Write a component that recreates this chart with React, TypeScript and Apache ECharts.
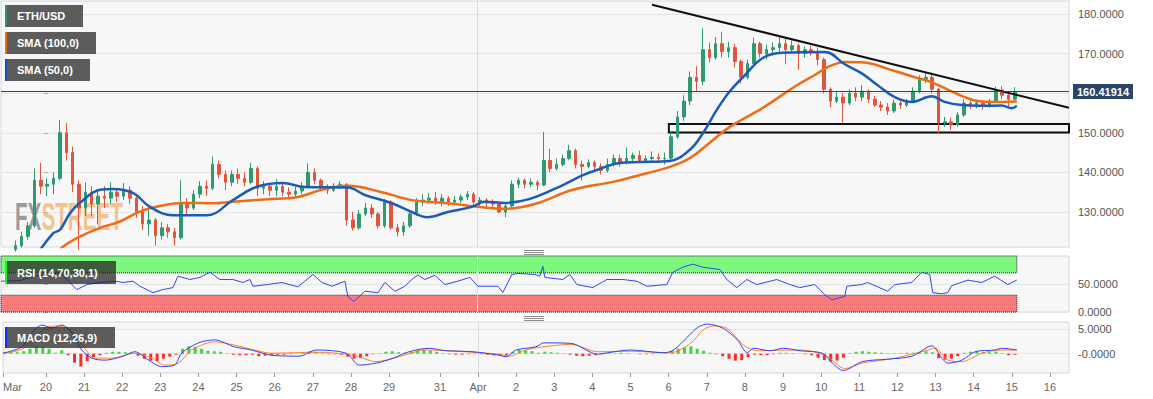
import React, { useEffect, useRef } from "react";
import * as echarts from "echarts";

// ---- axis extents (hour index since Mar 20 00:00, Mar 30 is a short session) ----
const X_MIN = -27;
const X_MAX = 644;
const DAY_TICKS = [-27, 0, 24, 48, 72, 96, 120, 144, 168, 192, 216, 248, 272, 296, 320, 344, 368, 392, 416, 440, 464, 488, 512, 536, 560, 584, 608, 632];
const DAY_LABELS = ["Mar", "20", "21", "22", "23", "24", "25", "26", "27", "28", "29", "31", "Apr", "2", "3", "4", "5", "6", "7", "8", "9", "10", "11", "12", "13", "14", "15", "16"];
const MONTH_BREAK = 272;

const PRICE_MIN = 121.16;
const PRICE_MAX = 183.28;
const PRICE_TICKS = [130, 140, 150, 160, 170, 180];
const PRICE_LABELS = [130, 140, 150, 170, 180]; // 160 is hidden under the last-price tag
const RSI_TICKS = [0, 50];
const MACD_MIN = -3.9;
const MACD_MAX = 6.42;
const MACD_TICKS = [0, 5];

// ---- 4-hour candles: [open, close, low, high], first bin centred at hour -26 ----
const CANDLE_START = -26;
const CANDLE_STEP = 4;
const CANDLES = [
  [118.5, 119.5, 118, 120.2], [119.5, 120.5, 119, 121.0], [120.5, 121.5, 120, 122.8], [121.5, 123.8, 121, 125.0],
  [123.8, 126.5, 123, 127.5], [126.5, 138, 126, 141], [138, 136.5, 134.5, 142.4], [136.5, 137, 134, 138.5],
  [137, 138.5, 134.5, 140], [138.5, 150, 138, 153.2], [150, 145, 143, 152.5], [145, 137, 135, 146.5],
  [137, 131, 120.5, 138], [131, 135, 129, 137.5], [135, 132, 129, 136.5], [132, 134, 127, 135.5],
  [134, 133.5, 131, 136.5], [133.5, 135, 132, 137.5], [135, 134, 132.5, 136], [134, 135.5, 133, 137.3],
  [135.5, 133.5, 132, 136.5], [133.5, 130, 128.5, 134], [130, 127, 125.5, 131.5], [127, 128, 124, 131],
  [128, 124, 121.5, 128.5], [124, 126, 123, 127.5], [126, 125, 123.5, 127], [125, 123.5, 121.5, 126],
  [123.5, 132, 123, 138], [132, 131, 129, 133.5], [131, 134.5, 130.5, 135.5], [134.5, 136.5, 133.5, 137.8],
  [136.5, 136, 134, 138], [136, 142, 135.5, 144], [142, 139.5, 138.5, 143], [139.5, 137.5, 135.5, 140.5],
  [137.5, 139.5, 136.5, 140.5], [139.5, 138.5, 137, 141], [138.5, 137.5, 136.5, 140], [137.5, 141, 137, 142.4],
  [141, 136, 134, 141.5], [136, 136.5, 134.5, 137.8], [136.5, 135.5, 134, 137.5], [135.5, 136.5, 134, 138.3],
  [136.5, 135, 134, 137.5], [135, 134.5, 133.5, 136.2], [134.5, 135.3, 134, 136.3], [135.3, 136.5, 134.5, 137.5],
  [136.5, 140, 136, 142.3], [140, 138, 137, 141], [138, 136.5, 135.5, 138.5], [136.5, 135.5, 134.5, 137],
  [135.5, 136.5, 135, 137.3], [136.5, 137, 135.8, 137.8], [137, 128, 126.5, 137.3], [128, 126, 125.3, 130],
  [126, 129.5, 125.5, 130.5], [129.5, 131, 129, 132.3], [131, 129.5, 128.5, 132], [129.5, 126.5, 125.8, 130],
  [126.5, 132.5, 126, 133.3], [132.5, 126, 125.5, 133], [126, 125, 123.8, 127], [125, 126.5, 124, 127.5],
  [126.5, 129.5, 126, 130.5], [129.5, 132.5, 129, 133.5], [132.5, 133, 131.5, 134.5], [133, 133.5, 132, 134.8],
  [133.5, 132.5, 131.8, 135], [132.5, 133.5, 131.5, 134.5], [133.5, 132.5, 131.5, 134], [132.5, 133, 132, 134],
  [133, 133.8, 132.3, 134.5], [133.8, 134.5, 133, 135.3], [134.5, 132.5, 131.5, 135], [132.5, 133, 131.5, 133.8],
  [133, 132.3, 131, 133.5], [132.3, 132, 131, 133.2], [132, 130, 129.7, 132.5], [130, 131.5, 128.7, 132],
  [131.5, 137, 131, 138], [137, 138, 136, 138.7], [138, 137, 136, 138.5], [137, 137.5, 136.3, 138.5],
  [137.5, 136.8, 135.5, 138], [136.8, 143, 136.5, 150.2], [143, 141, 140, 146], [141, 142, 140.5, 143.5],
  [142, 143.5, 141.5, 144.5], [143.5, 145.5, 143, 147], [145.5, 142, 141, 146], [142, 141.5, 138, 143],
  [141.5, 142.5, 141, 143.3], [142.5, 141.5, 140.5, 143], [141.5, 140.5, 139.5, 142.3], [140.5, 142, 140, 143.5],
  [142, 143.5, 141.5, 144.5], [143.5, 142.5, 141.5, 144.5], [142.5, 143.5, 142, 146.3], [143.5, 144.3, 142.5, 145],
  [144.3, 143, 142.5, 145.5], [143, 143.5, 142.3, 144.3], [143.5, 143.8, 142.5, 145.3], [143.8, 143.5, 142.3, 144.8],
  [143.5, 143.6, 142, 145], [143.6, 149, 143, 150.5], [149, 154, 148.5, 155.5], [154, 158, 153, 159.5],
  [158, 164, 157, 165.5], [164, 163, 160.5, 166.8], [163, 171, 162, 176.4], [171, 169, 167.8, 172.8],
  [169, 172.5, 168.5, 174.2], [172.5, 170.5, 169, 175.5], [170.5, 171.5, 169, 173], [171.5, 168, 166.5, 172.5],
  [168, 164, 162.5, 168.5], [164, 167.5, 163.5, 168.5], [167.5, 172.5, 167, 174], [172.5, 170, 169, 173],
  [170, 171, 168.5, 172.3], [171, 171.5, 169.5, 172.8], [171.5, 172.5, 170.3, 174.4], [172.5, 171, 167.3, 173.8],
  [171, 172, 170, 173.3], [172, 170, 165.9, 172.5], [170, 171, 169, 171.8], [171, 170.5, 169.5, 172],
  [170.5, 168.5, 167, 171.5], [168.5, 161, 160, 169], [161, 158, 156.5, 161.5], [158, 159, 157.5, 160.5],
  [159, 157.5, 152.5, 160], [157.5, 160, 157, 161], [160, 159, 158, 161.5], [159, 160.5, 158, 162],
  [160.5, 158.5, 157.5, 161], [158.5, 157, 156.5, 159.3], [157, 156.5, 155.5, 158], [156.5, 155.5, 154.5, 157.5],
  [155.5, 157.5, 155, 158.3], [157.5, 157, 156, 158.5], [157, 157.8, 156.5, 158.5], [157.8, 160.5, 157.5, 161.5],
  [160.5, 163.5, 160, 164.5], [163.5, 164, 162.5, 165.4], [164, 161, 160, 165.2], [161, 152.5, 150, 161.3],
  [152.5, 152.8, 151.5, 154], [152.8, 152, 150.7, 153.8], [152, 154.5, 151.5, 155.2], [154.5, 157.5, 154, 158.5],
  [157.5, 157, 156, 158.5], [157, 157.5, 156.2, 158.3], [157.5, 156.8, 155.8, 158.3], [156.8, 157.8, 156.3, 158.5],
  [157.8, 160.8, 157.5, 161.6], [160.8, 159.5, 158.5, 161.8], [159.5, 158.5, 156.5, 160.5], [158.5, 160.42, 158, 161.5],
];

// ---- moving averages [hour, price] ----
const SMA50 = [
  [-5.7, 118.5], [5.7, 124.6], [10.1, 125.5], [16.3, 129.7], [22.6, 132.3], [35.2, 135.6], [43.3, 135.8], [55.9, 134.8],
  [66.6, 131.3], [81.0, 129.2], [102.4, 129.2], [118.7, 133], [131.3, 136], [142, 137.1], [150.1, 137.3], [163.9, 136.3],
  [190.9, 136.2], [201.6, 134.3], [218.6, 132.2], [231.1, 130], [240.6, 128.7], [253.8, 130], [268.8, 131.3], [277, 132.6],
  [289.6, 132.3], [305.3, 133.3], [326, 136.8], [338.6, 139.3], [347.4, 140.6], [361.8, 142.4], [374.4, 142.6], [393.2, 142.9],
  [405.8, 145.7], [414, 149.9], [422.7, 155.8], [430.9, 160.5], [439.1, 164], [451.6, 168.9], [464.2, 170.2], [490.6, 170.4],
  [503.1, 167.3], [513.8, 165], [523.8, 162], [534.5, 159], [545.2, 157.8], [557.8, 159.2], [565.9, 157.8], [576.6, 157],
  [589.2, 156.8], [601.7, 156.9], [608, 156.2], [611.2, 156.8],
];
const SMA100 = [
  [8.8, 119.5], [11.9, 121.2], [22.6, 123.8], [35.2, 126], [47.7, 127.6], [60.3, 130.1], [72.9, 131.5], [87.3, 132.3],
  [106.1, 132.2], [118.7, 132.6], [140.1, 133.2], [159.5, 133.8], [174.6, 135.6], [190.9, 136.6], [212.3, 135], [231.1, 133],
  [251.9, 132.3], [272.6, 131.3], [289.6, 130.8], [308.4, 132], [332.3, 135.6], [357.4, 137.6], [378.8, 139.8], [393.2, 141.4],
  [405.8, 143.6], [418.3, 147.5], [430.9, 151.5], [451.6, 156.3], [473, 162], [484.3, 164.6], [492.4, 166.6], [503.1, 167.9],
  [513.8, 167.8], [534.5, 165.6], [549, 163.8], [555.3, 163.1], [565.9, 161.3], [578.5, 159], [589.2, 157.9], [601.7, 157.8],
  [611.2, 157.9],
];

// ---- drawn studies ----
const TRENDLINE = [[382, 182.35], [644, 156.3]];
const SUPPORT_ZONE = { x0: 392.6, top: 152.2, x1: 644, bottom: 150.1 };
const LAST_PRICE = 160.41914;

// ---- RSI [hour, value] ----
const RSI_LEVELS = [30, 70];
const RSI_END = 611.2;
const RSI = [
  [-27, 55], [-15.1, 56], [-8.8, 62], [-2.5, 66], [1.9, 64], [10.1, 71], [14.4, 58], [20.7, 40], [27, 49], [35.2, 52.7],
  [45.2, 55], [49.6, 52.7], [55.9, 55], [60.3, 46], [68.5, 34.5], [74.7, 40], [81, 43.6], [84.2, 64], [91.7, 58], [98, 61.8],
  [104.3, 71], [110.5, 58], [118.7, 58], [125, 52.7], [129.4, 58], [131.3, 46], [140.1, 49], [149.5, 52.7], [159.5, 45],
  [163.9, 55], [169, 67], [174.6, 52.7], [180.9, 46], [189.1, 55], [190.9, 27.8], [194.7, 18.8], [201.6, 37], [209.8, 34.5],
  [214.2, 52.7], [220.5, 37], [226.7, 46], [231.1, 58], [234.9, 66], [239.3, 58], [245.6, 65.5], [251.9, 49], [260, 55],
  [267.6, 61.8], [272.6, 46], [285.2, 46], [288.3, 35], [294, 67], [297.7, 69], [308.4, 67], [311.5, 64], [313.4, 82],
  [314.7, 61.8], [326, 58], [330.4, 67], [334.8, 49], [344.8, 43.6], [353.6, 58], [363.7, 58], [372.5, 55], [378.8, 46],
  [391.3, 49], [395.1, 71], [401.4, 80], [407.6, 85.5], [413.9, 80], [424.6, 76], [429, 58], [435.3, 43.6], [441.6, 58],
  [447.8, 49], [460.4, 58], [468.6, 49], [474.8, 43.6], [484.3, 49], [490.5, 31], [495, 21.8], [503.1, 27.8], [504.4, 46],
  [513.8, 49], [517.5, 52.7], [530.1, 37], [534.5, 49], [545.2, 52.7], [551.5, 71], [556.5, 67], [558.4, 34.5], [564, 32.7],
  [567.8, 34.5], [570.3, 47], [580.4, 57], [589.2, 52.7], [597.3, 64], [605.5, 49], [611.2, 57],
];

// ---- MACD [hour, value] and 4-hour histogram ----
const MACD_LINE = [
  [-27, 0.1], [-15.1, 1.4], [-8.8, 4.2], [-2.5, 5.8], [3.8, 5.2], [10.1, 5.8], [16.3, 4.2], [22.6, 0.75], [28.9, -0.9],
  [37.1, -1.3], [47.7, -0.6], [55.9, 0.4], [64.7, -1.3], [72.9, -2.6], [81, -2.3], [85.4, 0.1], [96.1, 2.2], [106.1, 2.8],
  [118.7, 1.4], [129.4, 0.75], [142, -0.3], [159.5, -0.5], [170.2, 0.75], [189.1, 0.1], [197.2, -2.3], [207.9, -1.9],
  [218.6, -0.9], [228.6, 0.4], [241.2, 1.1], [251.9, 0.6], [268.8, 0.4], [285.2, -0.3], [289.6, -0.6], [295.9, 0.75],
  [308.4, 1.4], [313.4, 2.2], [330.4, 2.1], [347.4, -0.1], [353.6, 0.2], [368.1, 0.75], [388.8, 0.2], [395.1, 0.75],
  [403.9, 3.4], [410.2, 5.3], [416.5, 6.0], [426.5, 5.1], [435.3, 2.8], [441.6, 0.2], [445.4, 1.1], [456, 0.6], [464.2, 1.1],
  [474.8, 0.6], [488.7, 0.1], [495, -1.9], [501.9, -3.4], [513.8, -1.6], [530.1, -1.1], [545.2, -0.5], [555.3, 1.4],
  [557.8, 1.6], [564, -0.9], [567.8, -1.9], [576.6, -1.3], [584.8, 0.4], [597.3, 0.75], [601.7, 1.1], [611.2, 0.75],
];
const MACD_SIGNAL = [
  [-27, 0.1], [-15.1, 0.9], [-6.9, 3.2], [-0.6, 5.2], [6.9, 5.6], [13.2, 5.2], [18.2, 3.8], [24.5, 1.1], [30.8, -0.9],
  [41.5, -0.9], [55.9, 0.1], [66.6, -0.9], [74.7, -2.3], [83.5, -1.9], [91.7, 0.75], [106.1, 2.4], [118.7, 1.75],
  [131.3, 0.75], [142, 0.1], [170.2, 0.3], [193.5, -0.3], [207.9, -1.6], [222.4, -0.6], [239.3, 0.75], [255, 0.6],
  [272.6, 0.2], [285.2, -0.1], [291.4, -0.5], [302.1, 0.75], [308.4, 1.2], [330.4, 1.9], [347.4, 0.4], [368.1, 0.5],
  [393.2, 0.2], [405.8, 2.1], [414, 4.9], [420.2, 5.6], [429, 5.1], [439.1, 1.75], [447.8, 0.6], [460.4, 0.7], [474.8, 0.75],
  [490.5, -0.3], [503.1, -3.0], [513.8, -1.9], [534.5, -0.9], [555.3, 0.75], [559.6, 1.1], [567.8, -1.3], [576.6, -1.6],
  [589.2, 0.1], [601.7, 0.75], [611.2, 0.75],
];
const MACD_HIST = [
  0.3, 0.3, 0.3, 0.5, 1.0, 1.4, 1.3, 1.0, 0.2, 0.7, -0.3, -1.8, -2.6, -1.5, -0.7, -0.3, 0.2, 0.4, 0.4, 0.3,
  0.2, -0.4, -1.0, -1.4, -1.5, -1.0, -0.6, -0.2, 1.0, 1.5, 1.4, 1.0, 0.6, 0.5, 0.4, 0.1, -0.2, -0.3, -0.3, -0.2,
  -0.5, -0.4, -0.3, -0.2, -0.2, -0.1, 0.0, 0.3, 0.5, 0.4, 0.1, -0.1, -0.1, -0.2, -0.6, -1.0, -0.9, -0.5, -0.1, 0.1,
  0.4, 0.5, 0.3, 0.2, 0.4, 0.7, 0.8, 0.6, 0.4, 0.1, -0.1, -0.2, -0.2, -0.1, -0.1, -0.1, -0.2, -0.3, -0.4, -0.3,
  0.4, 0.8, 0.7, 0.5, 0.2, 0.4, 0.3, 0.2, 0.1, -0.2, -0.4, -0.5, -0.4, -0.3, -0.1, 0.1, 0.1, 0.2, 0.1, 0.0,
  -0.1, -0.1, -0.1, 0.0, 0.1, 0.6, 1.0, 1.3, 1.5, 1.0, 0.6, 0.2, -0.1, -0.5, -1.0, -1.4, -1.3, -0.7, -0.2, -0.3,
  -0.3, -0.1, 0.2, 0.2, 0.1, 0.0, -0.1, -0.3, -0.8, -1.3, -1.6, -1.4, -0.8, 0.1, 0.4, 0.5, 0.4, 0.3, 0.2, 0.1,
  0.1, 0.1, 0.2, 0.2, 0.3, 0.5, 0.3, -0.9, -1.2, -1.0, -0.5, 0.2, 0.4, 0.4, 0.3, 0.3, 0.4, 0.1, -0.3, -0.2,
];

const FONT = "Arial, 'Liberation Sans', sans-serif";

function legendBox(x: number, y: number, w: number, h: number, strip: string, text: string) {
  return {
    type: "group",
    z: 100,
    children: [
      { type: "rect", z: 100, shape: { x, y, width: w, height: h }, style: { fill: "rgba(38,38,38,0.74)" } },
      { type: "rect", z: 101, shape: { x, y, width: 2, height: h }, style: { fill: strip } },
      {
        type: "text", z: 102, x: x + 12, y: y + h / 2,
        style: { text, fill: "#ffffff", fontSize: 11, fontWeight: "bold", fontFamily: FONT, verticalAlign: "middle" },
      },
    ],
  };
}

function handle(cx: number, cy: number) {
  return [-2, 0, 2].map((d) => ({
    type: "line", z: 50,
    shape: { x1: cx - 10, y1: cy + d + 0.5, x2: cx + 10, y2: cy + d + 0.5 },
    style: { stroke: "#8a8a8a", lineWidth: 1 },
  }));
}

export default function App() {
  const ref = useRef<HTMLDivElement>(null);
  useEffect(() => {
    if (!ref.current) return;
    const chart = echarts.init(ref.current, undefined, { renderer: "svg" });
    const candleData = CANDLES.map((c, i) => [CANDLE_START + i * CANDLE_STEP, c[0], c[1], c[2], c[3]]);
    const histData = MACD_HIST.map((v, i) => [CANDLE_START + i * CANDLE_STEP, v]);
    const gridCommon = { left: 1, width: 1068, show: true, backgroundColor: "#f7f7f7", borderColor: "#d2d8e6", borderWidth: 1 };
    const xCommon = { type: "value", min: X_MIN, max: X_MAX };
    const sep = (z: number) => ({
      silent: true, symbol: ["none", "none"], z,
      label: { show: false },
      lineStyle: { color: "#dcdcdc", width: 1, type: "solid" },
      data: [{ xAxis: MONTH_BREAK }],
    });
    const yLabel = { color: "#555", fontSize: 11, fontFamily: FONT, margin: 9 };
    const yTick = { show: true, length: 4, lineStyle: { color: "#aaa" } };

    chart.setOption({
      animation: false,
      backgroundColor: "#ffffff",
      textStyle: { fontFamily: FONT },
      grid: [
        { ...gridCommon, top: 1, height: 246 },
        { ...gridCommon, top: 256, height: 56 },
        { ...gridCommon, top: 322, height: 51 },
      ],
      xAxis: [
        { ...xCommon, gridIndex: 0, show: false, axisLine: { onZero: false } },
        { ...xCommon, gridIndex: 1, show: false, axisLine: { onZero: false } },
        {
          ...xCommon, gridIndex: 2, position: "bottom",
          axisLine: { show: false, onZero: false },
          splitLine: { show: false },
          axisTick: { show: true, length: 4, customValues: DAY_TICKS, lineStyle: { color: "#999" } },
          axisLabel: {
            customValues: DAY_TICKS, color: "#666", fontSize: 11, fontFamily: FONT, margin: 8,
            alignMinLabel: "left",
            formatter: (v: number) => {
              const i = DAY_TICKS.findIndex((t) => Math.abs(t - v) < 0.01);
              return i >= 0 ? DAY_LABELS[i] : "";
            },
          },
        },
      ],
      yAxis: [
        {
          type: "value", gridIndex: 0, position: "right", min: PRICE_MIN, max: PRICE_MAX,
          axisLine: { show: false }, axisTick: { ...yTick, customValues: PRICE_TICKS },
          axisLabel: { ...yLabel, customValues: PRICE_LABELS, formatter: (v: number) => v.toFixed(4) },
          splitLine: { show: true, lineStyle: { color: "#e4e4e4" } },
        },
        {
          type: "value", gridIndex: 1, position: "right", min: 0, max: 100,
          axisLine: { show: false }, axisTick: { ...yTick, customValues: RSI_TICKS },
          axisLabel: { ...yLabel, customValues: RSI_TICKS, formatter: (v: number) => v.toFixed(4) },
          splitLine: { show: true, lineStyle: { color: "#e4e4e4" } },
        },
        {
          type: "value", gridIndex: 2, position: "right", min: MACD_MIN, max: MACD_MAX,
          axisLine: { show: false }, axisTick: { ...yTick, customValues: MACD_TICKS },
          axisLabel: { ...yLabel, customValues: MACD_TICKS, formatter: (v: number) => (v === 0 ? "-0.0000" : v.toFixed(4)) },
          splitLine: { show: true, lineStyle: { color: "#e4e4e4" } },
        },
      ],
      series: [
        {
          type: "candlestick", xAxisIndex: 0, yAxisIndex: 0, data: candleData, barWidth: 3,
          itemStyle: { color: "#2f9a70", color0: "#e0553d", borderColor: "#2f9a70", borderColor0: "#e0553d", borderWidth: 1 },
          markLine: {
            silent: true, symbol: ["none", "none"],
            data: [{
              yAxis: LAST_PRICE,
              lineStyle: { color: "#2b4568", width: 1, type: "solid" },
              label: {
                show: true, position: "end", formatter: String(LAST_PRICE), distance: 4,
                color: "#fff", backgroundColor: "#2b4568", padding: [2, 4, 2, 4],
                fontWeight: "bold", fontSize: 11, fontFamily: FONT,
              },
            }],
          },
        },
        {
          type: "line", xAxisIndex: 0, yAxisIndex: 0, data: SMA100, smooth: 0.4, showSymbol: false,
          lineStyle: { color: "#f06c14", width: 2.5 }, z: 3, markLine: sep(1),
        },
        {
          type: "line", xAxisIndex: 0, yAxisIndex: 0, data: SMA50, smooth: 0.4, showSymbol: false,
          lineStyle: { color: "#1a5cb8", width: 2.5 }, z: 3,
        },
        {
          type: "line", xAxisIndex: 0, yAxisIndex: 0, data: TRENDLINE, showSymbol: false,
          lineStyle: { color: "#111", width: 2 }, z: 4,
          markArea: {
            silent: true,
            itemStyle: { color: "rgba(0,0,0,0)", borderColor: "#111", borderWidth: 2 },
            data: [[{ coord: [SUPPORT_ZONE.x0, SUPPORT_ZONE.top] }, { coord: [SUPPORT_ZONE.x1, SUPPORT_ZONE.bottom] }]],
          },
        },
        {
          type: "line", xAxisIndex: 1, yAxisIndex: 1, data: RSI, showSymbol: false,
          lineStyle: { color: "#2a48f5", width: 1 }, z: 3,
          markLine: sep(1),
          markArea: {
            silent: true,
            data: [
              [{ coord: [X_MIN, RSI_LEVELS[1]], itemStyle: { color: "#7ef77e", borderColor: "#222", borderWidth: 1, borderType: "dotted" } }, { coord: [RSI_END, 100] }],
              [{ coord: [X_MIN, 0], itemStyle: { color: "#f87a7a", borderColor: "#222", borderWidth: 1, borderType: "dotted" } }, { coord: [RSI_END, RSI_LEVELS[0]] }],
            ],
          },
        },
        {
          type: "bar", xAxisIndex: 2, yAxisIndex: 2, data: histData, barWidth: 3,
          itemStyle: { color: (p: any) => (p.value[1] >= 0 ? "#3fd43f" : "#ff2b2b") },
          markLine: sep(1),
        },
        {
          type: "line", xAxisIndex: 2, yAxisIndex: 2, data: MACD_SIGNAL, showSymbol: false, smooth: 0.3,
          lineStyle: { color: "#ff8026", width: 1 }, z: 3,
        },
        {
          type: "line", xAxisIndex: 2, yAxisIndex: 2, data: MACD_LINE, showSymbol: false, smooth: 0.3,
          lineStyle: { color: "#2a48f5", width: 1 }, z: 4,
        },
      ],
      graphic: [
        {
          type: "text", z: 1, x: 15, y: 197, scaleX: 0.53,
          style: {
            text: "{a|FX}{b|STREET}",
            rich: {
              a: { fontSize: 39, fontWeight: "bold", fontFamily: FONT, fill: "rgba(125,125,125,0.75)" },
              b: { fontSize: 39, fontWeight: "bold", fontFamily: FONT, fill: "rgba(242,170,95,0.7)" },
            },
          },
        },
        legendBox(5, 5, 78, 22, "#2f8f72", "ETH/USD"),
        legendBox(5, 32, 91, 22, "#f06a10", "SMA (100,0)"),
        legendBox(5, 59, 85, 22, "#1550b0", "SMA (50,0)"),
        legendBox(5, 261, 111, 23, "#12ff12", "RSI (14,70,30,1)"),
        legendBox(5, 327, 110, 21, "#1030ff", "MACD (12,26,9)"),
        ...handle(534, 252),
        ...handle(534, 318),
      ],
    });
    return () => chart.dispose();
  }, []);
  return <div ref={ref} style={{ position: "absolute", left: 0, top: 0, width: 1153, height: 399 }} />;
}
